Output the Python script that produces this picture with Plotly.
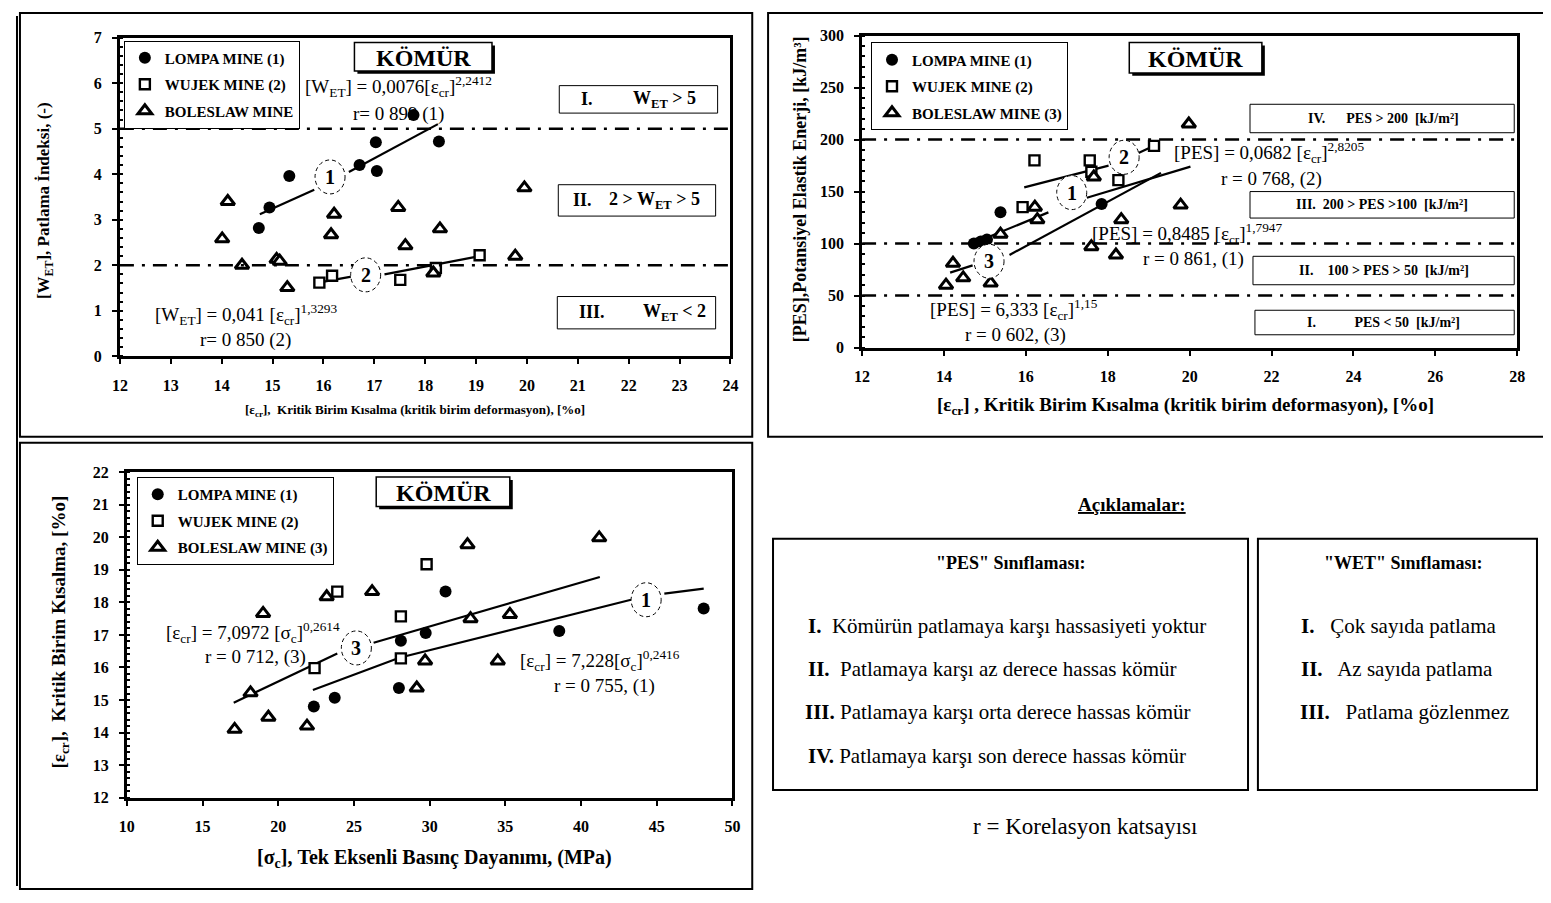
import plotly.graph_objects as go

W, H = 1551, 903          # reference picture size
PAGE_PAD = 8              # browser body margin around the figure
FW, FH = W - 2 * PAGE_PAD, H - 2 * PAGE_PAD
SERIF = "Liberation Serif"

# ---------------- Panel A : W_ET vs eps_cr ----------------
a_lompa_x = [14.73, 14.94, 15.33, 16.71, 17.03, 17.05, 17.77, 18.27]
a_lompa_y = [2.82, 3.27, 3.96, 4.20, 4.70, 4.07, 5.30, 4.72]
a_wujek_x = [15.92, 16.17, 17.51, 18.21, 19.07]
a_wujek_y = [1.62, 1.77, 1.68, 1.94, 2.22]
a_bol_x = [14.01, 14.12, 14.40, 15.08, 15.14, 15.29, 16.15, 16.21, 17.47, 17.61, 18.16, 18.29, 19.77, 19.95]
a_bol_y = [2.58, 3.40, 2.00, 2.13, 2.09, 1.51, 2.67, 3.12, 3.27, 2.43, 1.83, 2.80, 2.20, 3.70]
a_fit1_x = [14.75, 15.82, None, 16.50, 18.25]
a_fit1_y = [3.12, 3.66, None, 4.05, 5.10]
a_fit2_x = [15.90, 16.55, None, 17.20, 19.07]
a_fit2_y = [1.62, 1.75, None, 1.80, 2.20]
a_limits = [5, 2]
a_xticks = list(range(12, 25))
a_yticks = list(range(0, 8))

# ---------------- Panel B : PES vs eps_cr ----------------
b_lompa_x = [14.73, 14.90, 15.05, 15.38, 17.85]
b_lompa_y = [100, 102, 104, 130, 138]
b_wujek_x = [15.92, 16.21, 17.56, 17.60, 18.26, 19.13]
b_wujek_y = [135, 180, 180, 169, 161, 194]
b_bol_x = [14.05, 14.22, 14.47, 15.14, 15.38, 16.22, 16.28, 17.60, 17.66, 18.20, 18.33, 19.78, 19.98]
b_bol_y = [60, 81, 67, 62, 109, 135, 123, 97, 164, 89, 123, 137, 215]
b_fit1_x = [14.70, 16.55, None, 17.49, 20.02]
b_fit1_y = [100, 130, None, 144, 174]
b_fit2_x = [15.96, 18.02, None, 18.75, 19.13]
b_fit2_y = [154, 175, None, 187, 194]
b_fit3_x = [14.15, 14.70, None, 15.60, 19.30]
b_fit3_y = [72, 79, None, 89, 168]
b_limits = [200, 100, 50]
b_xticks = list(range(12, 29, 2))
b_yticks = list(range(0, 301, 50))

# ---------------- Panel C : eps_cr vs sigma_c ----------------
c_lompa_x = [22.35, 23.73, 27.97, 28.10, 29.74, 31.05, 38.56, 48.10]
c_lompa_y = [14.80, 15.07, 15.37, 16.82, 17.06, 18.33, 17.12, 17.81]
c_wujek_x = [22.40, 23.90, 28.10, 28.10, 29.80]
c_wujek_y = [15.98, 18.33, 17.57, 16.28, 19.17]
c_bol_x = [17.12, 18.17, 19.00, 19.35, 21.90, 23.20, 26.20, 29.15, 29.70, 32.50, 32.70, 34.50, 35.30, 41.20]
c_bol_y = [14.10, 15.22, 17.66, 14.47, 14.20, 18.17, 18.33, 15.37, 16.20, 19.77, 17.50, 16.20, 17.63, 19.98]
c_fit3_x = [17.06, 23.90, None, 26.30, 41.24]
c_fit3_y = [14.92, 16.43, None, 16.76, 18.78]
c_fit1_x = [22.29, 28.00, 43.30, None, 45.50, 48.10]
c_fit1_y = [15.31, 16.30, 18.08, None, 18.27, 18.42]
c_xticks = list(range(10, 51, 5))
c_yticks = list(range(12, 23))


def X(px):
    return (px - PAGE_PAD) / FW


def Y(py):
    return 1 - (py - PAGE_PAD) / FH


fig = go.Figure()

MARK = {
    "lompa": dict(symbol="circle", size=12, color="black", line=dict(color="black", width=0)),
    "wujek": dict(symbol="square", size=10, color="white", line=dict(color="black", width=2.4)),
    "bol": dict(symbol="triangle-up", size=12, color="white", line=dict(color="black", width=3)),
}


def add_pts(x, y, kind, xa, ya, leg, name):
    fig.add_trace(go.Scatter(
        x=x, y=y, mode="markers", marker=MARK[kind], name=name,
        xaxis=xa, yaxis=ya, legend=leg, legendgroup=leg + kind, showlegend=True,
        hoverinfo="x+y"))


def add_line(x, y, xa, ya):
    fig.add_trace(go.Scatter(
        x=x, y=y, mode="lines", line=dict(color="black", width=2.2),
        xaxis=xa, yaxis=ya, showlegend=False, hoverinfo="skip"))


# Panel A
add_line(a_fit1_x, a_fit1_y, "x", "y")
add_line(a_fit2_x, a_fit2_y, "x", "y")
add_pts(a_lompa_x, a_lompa_y, "lompa", "x", "y", "legend", "LOMPA MINE (1)")
add_pts(a_wujek_x, a_wujek_y, "wujek", "x", "y", "legend", "WUJEK MINE (2)")
add_pts(a_bol_x, a_bol_y, "bol", "x", "y", "legend", "BOLESLAW MINE")

# Panel B
add_line(b_fit1_x, b_fit1_y, "x2", "y2")
add_line(b_fit2_x, b_fit2_y, "x2", "y2")
add_line(b_fit3_x, b_fit3_y, "x2", "y2")
add_pts(b_lompa_x, b_lompa_y, "lompa", "x2", "y2", "legend2", "LOMPA MINE (1)")
add_pts(b_wujek_x, b_wujek_y, "wujek", "x2", "y2", "legend2", "WUJEK MINE (2)")
add_pts(b_bol_x, b_bol_y, "bol", "x2", "y2", "legend2", "BOLESLAW MINE (3)")

# Panel C
add_line(c_fit3_x, c_fit3_y, "x3", "y3")
add_line(c_fit1_x, c_fit1_y, "x3", "y3")
add_pts(c_lompa_x, c_lompa_y, "lompa", "x3", "y3", "legend3", "LOMPA MINE (1)")
add_pts(c_wujek_x, c_wujek_y, "wujek", "x3", "y3", "legend3", "WUJEK MINE (2)")
add_pts(c_bol_x, c_bol_y, "bol", "x3", "y3", "legend3", "BOLESLAW MINE (3)")

TICKFONT = dict(family=SERIF, size=16, color="black", weight="bold")


def axis(domain, rng, ticks, anchor, minor_dtick=None):
    d = dict(domain=domain, range=rng, tickvals=ticks, anchor=anchor,
             showline=True, linecolor="black", linewidth=3, mirror=True,
             ticks="outside", ticklen=5, tickwidth=1.5, tickcolor="black",
             showgrid=False, zeroline=False, tickfont=TICKFONT,
             ticklabelstandoff=7)
    if minor_dtick:
        d["minor"] = dict(dtick=minor_dtick, ticks="inside", ticklen=3,
                          tickcolor="black", showgrid=False)
    return d


fig.update_layout(
    xaxis=axis([X(113), X(730)], [12, 24], a_xticks, "y"),
    yaxis=axis([Y(355), Y(30)], [0, 7], a_yticks, "x", 0.2),
    xaxis2=axis([X(863), X(1525)], [12, 28], b_xticks, "y2"),
    yaxis2=axis([Y(346), Y(28)], [0, 300], b_yticks, "x2", 10),
    xaxis3=axis([X(120), X(732)], [10, 50], c_xticks, "y3"),
    yaxis3=axis([Y(805), Y(473)], [12, 22], c_yticks, "x3", 0.2),
)

LEGFONT = dict(family=SERIF, size=15, color="black", weight="bold")


def legend(px, py):
    return dict(x=X(px), y=Y(py), xanchor="left", yanchor="top",
                bordercolor="black", borderwidth=1, bgcolor="white",
                font=LEGFONT, traceorder="grouped", tracegroupgap=4,
                itemwidth=30)


fig.update_layout(
    legend=legend(117, 33),
    legend2=legend(872, 35),
    legend3=legend(130, 478),
)

shapes = []
ann = []


def rect(x0, y0, x1, y1, w=2, fill=None, layer="above"):
    shapes.append(dict(type="rect", xref="paper", yref="paper",
                       x0=X(x0), x1=X(x1), y0=Y(y1), y1=Y(y0),
                       line=dict(color="black", width=w),
                       fillcolor=fill if fill else "rgba(0,0,0,0)", layer=layer))


def text(px, py, s, size=14, bold=False, anchor="center", angle=0, family=SERIF):
    ann.append(dict(xref="paper", yref="paper", x=X(px), y=Y(py), text=s,
                    showarrow=False, xanchor=anchor, yanchor="middle",
                    textangle=angle,
                    font=dict(family=family, size=size, color="black",
                              weight="bold" if bold else "normal")))


def komur(x0, y0, x1, y1):
    shapes.append(dict(type="rect", xref="paper", yref="paper",
                       x0=X(x0 + 3), x1=X(x1 + 3), y0=Y(y1 + 3), y1=Y(y0 + 3),
                       line=dict(color="black", width=0), fillcolor="black", layer="above"))
    rect(x0, y0, x1, y1, w=1.5, fill="white")
    text((x0 + x1) / 2, (y0 + y1) / 2 + 1, "KÖMÜR", size=24, bold=True)


def hline(xa, ya, x0, x1, yv):
    shapes.append(dict(type="line", xref=xa, yref=ya, x0=x0, x1=x1, y0=yv, y1=yv,
                       line=dict(color="black", width=2.5, dash="14px,8px,3px,8px")))


def circ_label(xa, ya, xv, yv, s):
    shapes.append(dict(type="circle", xref=xa, yref=ya, xsizemode="pixel",
                       ysizemode="pixel", xanchor=xv, yanchor=yv,
                       x0=-15, x1=15, y0=-17, y1=17,
                       line=dict(color="black", width=1, dash="4px,3px"),
                       fillcolor="white", layer="above"))
    ann.append(dict(xref=xa, yref=ya, x=xv, y=yv, text=s, showarrow=False,
                    font=dict(family=SERIF, size=20, color="black", weight="bold")))


EQ = 19

# outer frames
shapes.append(dict(type="line", xref="paper", yref="paper", x0=X(9), x1=X(9), y0=0, y1=1,
                   line=dict(color="black", width=2)))
rect(12, 5, 752, 437, w=2)
rect(768, 5, 1556, 437, w=2)
rect(12, 443, 752, 898, w=2)

# ----- Panel A annotations -----
for v in a_limits:
    hline("x", "y", 12, 24, v)
komur(350, 35, 489, 64)
text(395, 80, "[W<sub>ET</sub>] = 0,0076[ε<sub>cr</sub>]<sup>2,2412</sup>", size=EQ)
text(395, 108, "r= 0 899 (1)", size=EQ)
rect(557, 79, 717, 107, w=1, fill="white")
text(585, 93, "I.", size=18, bold=True)
text(663, 93, "W<sub>ET</sub> > 5", size=18, bold=True)
rect(556, 180, 715, 212, w=1, fill="white")
text(580, 196, "II.", size=18, bold=True)
text(653, 196, "2 > W<sub>ET</sub> > 5", size=18, bold=True)
rect(555, 294, 715, 327, w=1, fill="white")
text(590, 310, "III.", size=18, bold=True)
text(673, 310, "W<sub>ET</sub> < 2", size=18, bold=True)
text(240, 312, "[W<sub>ET</sub>] = 0,041 [ε<sub>cr</sub>]<sup>1,3293</sup>", size=EQ)
text(240, 338, "r= 0 850 (2)", size=EQ)
circ_label("x", "y", 16.13, 3.94, "1")
circ_label("x", "y", 16.83, 1.79, "2")
text(38, 196, "[W<sub>ET</sub>], Patlama İndeksi, (-)", size=17, bold=True, angle=-90)
text(411, 410, "[ε<sub>cr</sub>],  Kritik Birim Kısalma (kritik birim deformasyon), [%o]", size=13, bold=True)

# ----- Panel B annotations -----
for v in b_limits:
    hline("x2", "y2", 12, 28, v)
komur(1133, 35, 1267, 66)
rect(1255, 98, 1522, 127, w=1, fill="white")
text(1390, 112, "IV.      PES > 200  [kJ/m²]", size=14, bold=True)
rect(1255, 187, 1522, 214, w=1, fill="white")
text(1388, 200, "III.  200 > PES >100  [kJ/m²]", size=14, bold=True)
rect(1258, 253, 1522, 282, w=1, fill="white")
text(1390, 267, "II.    100 > PES > 50  [kJ/m²]", size=14, bold=True)
rect(1260, 308, 1522, 333, w=1, fill="white")
text(1390, 320, "I.           PES < 50  [kJ/m²]", size=14, bold=True)
text(1275, 147, "[PES] = 0,0682 [ε<sub>cr</sub>]<sup>2,8205</sup>", size=EQ)
text(1277, 174, "r = 0 768, (2)", size=EQ)
text(1192, 230, "[PES] = 0,8485 [ε<sub>cr</sub>]<sup>1,7947</sup>", size=EQ)
text(1198, 256, "r = 0 861, (1)", size=EQ)
text(1017, 307, "[PES] = 6,333 [ε<sub>cr</sub>]<sup>1,15</sup>", size=EQ)
text(1018, 333, "r = 0 602, (3)", size=EQ)
circ_label("x2", "y2", 17.12, 149, "1")
circ_label("x2", "y2", 18.40, 183, "2")
circ_label("x2", "y2", 15.10, 83, "3")
text(800, 185, "[PES],Potansiyel Elastik Enerji, [kJ/m³]", size=18, bold=True, angle=-90)
text(1190, 406, "[ε<sub>cr</sub>] , Kritik Birim Kısalma (kritik birim deformasyon), [%o]", size=19, bold=True)

# ----- Panel C annotations -----
komur(372, 478, 507, 508)
text(248, 637, "[ε<sub>cr</sub>] = 7,0972 [σ<sub>c</sub>]<sup>0,2614</sup>", size=EQ)
text(250, 662, "r = 0 712, (3)", size=EQ)
text(598, 665, "[ε<sub>cr</sub>] = 7,228[σ<sub>c</sub>]<sup>0,2416</sup>", size=EQ)
text(603, 691, "r = 0 755, (1)", size=EQ)
circ_label("x3", "y3", 25.16, 16.60, "3")
circ_label("x3", "y3", 44.30, 18.08, "1")
text(52, 636, "[ε<sub>cr</sub>],  Kritik Birim Kısalma, [%o]", size=19, bold=True, angle=-90)
text(431, 867, "[σ<sub>c</sub>], Tek Eksenli Basınç Dayanımı, (MPa)", size=20, bold=True)

# ----- Explanations -----
text(1136, 506, "<u>Açıklamalar:</u>", size=19, bold=True)
rect(773, 541, 1253, 797, w=2)
rect(1263, 541, 1545, 797, w=2)
text(1013, 566, "\"PES\" Sınıflaması:", size=18, bold=True)
text(806, 630, "<b>I.</b>  Kömürün patlamaya karşı hassasiyeti yoktur", size=21, anchor="left")
text(806, 674, "<b>II.</b>  Patlamaya karşı az derece hassas kömür", size=21, anchor="left")
text(803, 718, "<b>III.</b> Patlamaya karşı orta derece hassas kömür", size=21, anchor="left")
text(806, 762, "<b>IV.</b> Patlamaya karşı son derece hassas kömür", size=21, anchor="left")
text(1410, 566, "\"WET\" Sınıflaması:", size=18, bold=True)
text(1305, 630, "<b>I.</b>   Çok sayıda patlama", size=21, anchor="left")
text(1305, 674, "<b>II.</b>   Az sayıda patlama", size=21, anchor="left")
text(1303, 718, "<b>III.</b>   Patlama gözlenmez", size=21, anchor="left")
text(1088, 834, "r = Korelasyon katsayısı", size=23)

fig.update_layout(
    width=FW, height=FH, margin=dict(l=0, r=0, t=0, b=0),
    paper_bgcolor="white", plot_bgcolor="white",
    shapes=shapes, annotations=ann,
    font=dict(family=SERIF, color="black"),
)

fig.write_html("out.html")
